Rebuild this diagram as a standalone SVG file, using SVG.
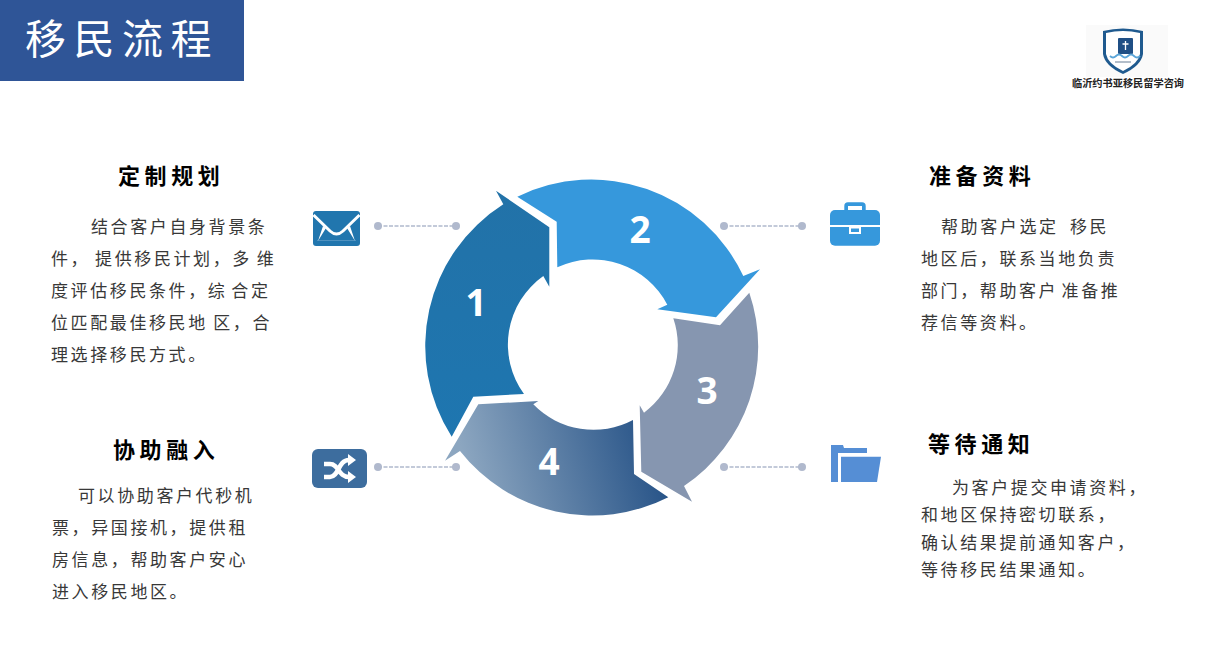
<svg xmlns="http://www.w3.org/2000/svg" width="1207" height="651" viewBox="0 0 1207 651">
<style>
text{font-family:"Noto Sans CJK SC","Liberation Sans",sans-serif}
.h{font-size:22px;font-weight:700;letter-spacing:4.600px;fill:#000}
.b{font-size:17px;font-weight:400;letter-spacing:2.600px;fill:#383838}
.n{font-family:"Open Sans","Noto Sans",sans-serif;font-size:37px;font-weight:700;fill:#fff;text-anchor:middle}
.d{fill:#b0b9cd}
.c{stroke:#b0b9cd;stroke-width:1.5;stroke-dasharray:4 1.5;fill:none}
</style>
<defs>
<linearGradient id="g4" gradientUnits="userSpaceOnUse" x1="470" y1="480" x2="650" y2="430">
<stop offset="0" stop-color="#8ca6c0"/><stop offset="1" stop-color="#285488"/>
</linearGradient>
<linearGradient id="g1" x1="0" y1="0" x2="0" y2="1">
<stop offset="0" stop-color="#2272a8"/><stop offset="1" stop-color="#1e76b0"/>
</linearGradient>
</defs>
<rect width="1207" height="651" fill="#fff"/>
<g id="header">
<rect width="244" height="81" fill="#2f5597"/>
<text x="25" y="54" font-size="41" fill="#fff" letter-spacing="7.5">移民流程</text>
</g>
<g id="logo">
<rect x="1086" y="25" width="82" height="52" fill="#fafafa"/>
<path d="M1103,31 Q1123,26 1143,31 V54 Q1141,66 1123,74 Q1105,66 1103,54Z" fill="#1f5a8f"/>
<path d="M1106,33 Q1123,29 1140,33 V54 Q1138,64 1123,71 Q1108,64 1106,54Z" fill="#fff"/>
<rect x="1118" y="38" width="15" height="16" rx="1" fill="#1f4f85"/>
<path d="M1125.500,41V50M1122.500,44H1128.500" stroke="#fff" stroke-width="1.300"/>
<path d="M1110,56 q3,3 6,0 t6,0 t6,0 t6,0 t6,0" fill="none" stroke="#5aa5d8" stroke-width="1.800"/>
<path d="M1115,62H1131" stroke="#9aa8b8" stroke-width="1.500"/>
<text x="1072" y="87" font-size="10.200" font-weight="700" fill="#222" textLength="112">临沂约书亚移民留学咨询</text>
</g>
<g id="connectors">
<path class="c" d="M378,226H456"/><path class="c" d="M378,467H456"/>
<path class="c" d="M724,226H802"/><path class="c" d="M724,467H802"/>
<circle class="d" cx="378" cy="226" r="4"/><circle class="d" cx="456" cy="226" r="4"/>
<circle class="d" cx="378" cy="467" r="4"/><circle class="d" cx="456" cy="467" r="4"/>
<circle class="d" cx="724" cy="226" r="4"/><circle class="d" cx="802" cy="226" r="4"/>
<circle class="d" cx="724" cy="467" r="4"/><circle class="d" cx="802" cy="467" r="4"/>
</g>
<g id="seg1">
<path fill="url(#g1)" d="M496,190.700L503.300,204.300A168,168 0 0 0 451.700,436.700L473.300,396.700L524,394A84,84 0 0 1 543.300,276L549.300,286.700V227.300Z"/>
<text class="n" x="476" y="316">1</text>
</g>
<g id="seg2">
<path fill="#3698dc" d="M517.300,196.700A168,168 0 0 1 743.300,276L760,269.300L716,317.300L657.300,309.300L667.300,304.700A84,84 0 0 0 557.300,267.300L556.700,221.700Z"/>
<text class="n" x="640" y="243">2</text>
</g>
<g id="seg3">
<path fill="#8696b0" d="M749.300,292.700A168,168 0 0 1 684,486L692,501.700L641.300,471.700L639.700,405.300L644,412.700A84,84 0 0 0 673.300,318.300L720,325.300Z"/>
<text class="n" x="707" y="404">3</text>
</g>
<g id="seg4">
<path fill="url(#g4)" d="M668.300,497.300A168,168 0 0 1 460,451L445,460.700L478.300,404.300L538.300,401L533.300,404.300A84,84 0 0 0 633,420L634,474Z"/>
<text class="n" x="549" y="475">4</text>
</g>
<g id="icon-mail">
<rect x="313" y="211" width="47" height="35" rx="3" fill="#2176ae"/>
<path d="M313.500,215 L330,231 Q336.500,237 343,231 L359.500,215" fill="none" stroke="#fff" stroke-width="3"/>
<path d="M318,241 L323,226 L326,228ZM355,241 L350,226 L347,228Z" fill="#fff"/>
<path d="M317,240.500H356" stroke="#6ea6cc" stroke-width=".6"/>
</g>
<g id="icon-shuffle">
<rect x="312" y="449" width="55" height="39" rx="6" fill="#3d6d9e"/>
<path d="M324,464H330C339,464 338,477 349,477M324,477H330C339,477 338,460 349,460" fill="none" stroke="#fff" stroke-width="4.500"/>
<path d="M348,454L356,460L348,466ZM348,471L356,477L348,483Z" fill="#fff"/>
</g>
<g id="icon-case">
<path d="M844.300,211V206Q844.300,202.300 848,202.300H862Q865.700,202.300 865.700,206V211H862V206H848V211Z" fill="#3698dc"/>
<rect x="830" y="210" width="50" height="35.700" rx="5" fill="#3698dc"/>
<rect x="830" y="225" width="50" height="2" fill="#fff"/>
<rect x="849" y="227" width="12" height="7" fill="#fff"/>
<rect x="851" y="228.500" width="8" height="3.500" fill="#3698dc"/>
</g>
<g id="icon-folder">
<path fill="#558ed5" d="M831,445H843L844,448H867V453H838V482H831Z"/>
<path fill="#558ed5" d="M841,456.700H881L877,482H841Z"/>
</g>
<g id="block1">
<text class="h" x="118" y="184">定制规划</text>
<text class="b" x="91" y="233">结合客户自身背景条</text>
<text class="b" x="51" y="265" xml:space="preserve" word-spacing="-1.500">件， 提供移民计划，多 维</text>
<text class="b" x="51" y="297" word-spacing="-2.500">度评估移民条件，综 合定</text>
<text class="b" x="51" y="329" word-spacing="-1">位匹配最佳移民地 区，合</text>
<text class="b" x="51" y="361">理选择移民方式。</text>
</g>
<g id="block2">
<text class="h" x="929" y="184">准备资料</text>
<text class="b" x="941" y="233" xml:space="preserve" word-spacing="5">帮助客户选定 移民</text>
<text class="b" x="921" y="265">地区后，联系当地负责</text>
<text class="b" x="921" y="297" word-spacing="-3">部门，帮助客户 准备推</text>
<text class="b" x="921" y="329">荐信等资料。</text>
</g>
<g id="block3">
<text class="h" x="928" y="452">等待通知</text>
<text class="b" x="952" y="494">为客户提交申请资料，</text>
<text class="b" x="921" y="521">和地区保持密切联系，</text>
<text class="b" x="921" y="549">确认结果提前通知客户，</text>
<text class="b" x="921" y="576">等待移民结果通知。</text>
</g>
<g id="block4">
<text class="h" x="113" y="458">协助融入</text>
<text class="b" x="78" y="502">可以协助客户代秒机</text>
<text class="b" x="52" y="534">票，异国接机，提供租</text>
<text class="b" x="52" y="566">房信息，帮助客户安心</text>
<text class="b" x="52" y="598">进入移民地区。</text>
</g>
</svg>
